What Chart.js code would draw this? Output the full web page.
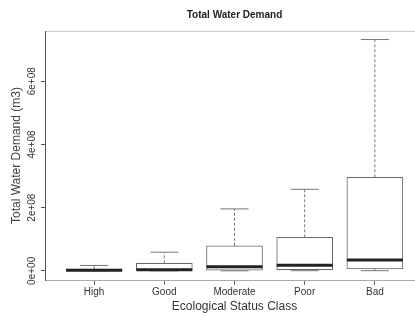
<!DOCTYPE html>
<html>
<head>
<meta charset="utf-8">
<script src="https://cdn.jsdelivr.net/npm/chart.js@4"></script>
<style>
  html, body { margin: 0; padding: 0; background: #fff; overflow: hidden; }
  #wrap { width: 415px; height: 317px; overflow: hidden; }
</style>
</head>
<body>
<div id="wrap"><canvas id="chart" width="430" height="317"></canvas></div>
<script>
// Boxplot: total water demand per ecological status class
const categories = ['High', 'Good', 'Moderate', 'Poor', 'Bad'];
const whiskerLow = [0, 0, 0, 5e5, 5e5];
const quart1 = [2e5, 1e6, 2e6, 4e6, 6e6];
const medians = [2e6, 3.5e6, 1.3e7, 1.8e7, 3.4e7];
const quart3 = [5.5e6, 2.4e7, 7.9e7, 1.06e8, 2.96e8];
const whiskerHigh = [1.7e7, 5.9e7, 1.96e8, 2.58e8, 7.32e8];
const yTicks = [0, 2e8, 4e8, 6e8];
const yTickLabels = ['0e+00', '2e+08', '4e+08', '6e+08'];

const FONT = "'Liberation Sans', Arial, sans-serif";

// whiskers, caps and medians drawn from the box elements and the scales
const boxExtras = {
    id: 'boxExtras',
    afterDatasetsDraw(chart) {
        const ctx = chart.ctx;
        const xs = chart.scales.x, ys = chart.scales.y;
        const bars = chart.getDatasetMeta(0).data;
        ctx.save();
        categories.forEach((c, i) => {
            const x = xs.getPixelForValue(i + 1);
            const half = bars[i].width / 2;
            const cap = half / 2;
            const yMin = ys.getPixelForValue(whiskerLow[i]);
            const yQ1 = ys.getPixelForValue(quart1[i]);
            const yQ3 = ys.getPixelForValue(quart3[i]);
            const yMax = ys.getPixelForValue(whiskerHigh[i]);
            const yMed = ys.getPixelForValue(medians[i]);

            ctx.strokeStyle = '#777';
            ctx.lineWidth = 1;
            ctx.setLineDash([3, 2]);
            ctx.beginPath();
            ctx.moveTo(x, yQ3); ctx.lineTo(x, yMax);
            ctx.moveTo(x, yQ1); ctx.lineTo(x, yMin);
            ctx.stroke();

            ctx.setLineDash([]);
            ctx.beginPath();
            ctx.moveTo(x - cap, yMax); ctx.lineTo(x + cap, yMax);
            ctx.moveTo(x - cap, yMin); ctx.lineTo(x + cap, yMin);
            ctx.stroke();

            ctx.strokeStyle = '#222';
            ctx.lineWidth = 3;
            ctx.beginPath();
            ctx.moveTo(x - half, yMed); ctx.lineTo(x + half, yMed);
            ctx.stroke();
        });
        ctx.restore();
    },
    afterDraw(chart) {
        // y tick labels, rotated like the R axis
        const ctx = chart.ctx;
        const ys = chart.scales.y;
        ctx.save();
        ctx.fillStyle = '#333';
        ctx.font = '10px ' + FONT;
        ctx.textAlign = 'center';
        ctx.textBaseline = 'middle';
        ys.ticks.forEach((t, i) => {
            ctx.save();
            ctx.translate(chart.chartArea.left - 13, ys.getPixelForValue(t.value));
            ctx.rotate(-Math.PI / 2);
            ctx.fillText(yTickLabels[i], 0, 0);
            ctx.restore();
        });
        ctx.restore();
    }
};

const ctx = document.getElementById('chart').getContext('2d');
new Chart(ctx, {
    type: 'bar',
    data: {
        datasets: [{
            data: categories.map((c, i) => ({ x: i + 1, y: [quart1[i], quart3[i]] })),
            backgroundColor: '#fff',
            borderColor: '#666',
            borderWidth: 1,
            borderSkipped: false,
            barThickness: 56
        }]
    },
    options: {
        responsive: false,
        animation: false,
        layout: { padding: { left: 0, right: 6, top: 0, bottom: 0 } },
        plugins: {
            legend: { display: false },
            tooltip: { enabled: false }
        },
        scales: {
            x: {
                type: 'linear',
                position: 'bottom',
                offset: false,
                min: 0.3,
                max: 5.7,
                afterBuildTicks: s => { s.ticks = categories.map((c, i) => ({ value: i + 1 })); },
                afterFit: s => { s.height = 37; },
                grid: { display: true, offset: false, drawOnChartArea: false, tickLength: 5, color: '#666' },
                border: { display: true, color: '#aaa' },
                ticks: {
                    padding: 2,
                    color: '#333',
                    font: { family: FONT, size: 10, lineHeight: 1 },
                    maxRotation: 0,
                    autoSkip: false,
                    callback: v => categories[v - 1]
                },
                title: {
                    display: true,
                    text: 'Ecological Status Class',
                    color: '#333',
                    font: { family: FONT, size: 12, lineHeight: 1 },
                    padding: { top: 0, bottom: 4.3 }
                }
            },
            x2: {
                type: 'linear',
                position: 'top',
                offset: false,
                min: 0.3,
                max: 5.7,
                afterFit: s => { s.height = 31; },
                grid: { display: false },
                border: { display: true, color: '#ccc' },
                ticks: { display: false },
                title: {
                    display: true,
                    text: 'Total Water Demand',
                    color: '#222',
                    font: { family: FONT, size: 10, weight: 'bold', lineHeight: 1 },
                    padding: { top: 10, bottom: 0 }
                }
            },
            y: {
                type: 'linear',
                min: -2.9e7,
                max: 7.59e8,
                afterBuildTicks: s => { s.ticks = yTicks.map(v => ({ value: v })); },
                afterFit: s => { s.width = 45; },
                grid: { display: true, drawOnChartArea: false, tickLength: 4, color: '#555' },
                border: { display: true, color: '#555' },
                ticks: { display: false },
                title: {
                    display: true,
                    text: 'Total Water Demand (m3)',
                    color: '#444',
                    font: { family: FONT, size: 12, lineHeight: 1 },
                    padding: { top: 10.5, bottom: 0 }
                }
            }
        }
    },
    plugins: [boxExtras]
});
</script>
</body>
</html>
